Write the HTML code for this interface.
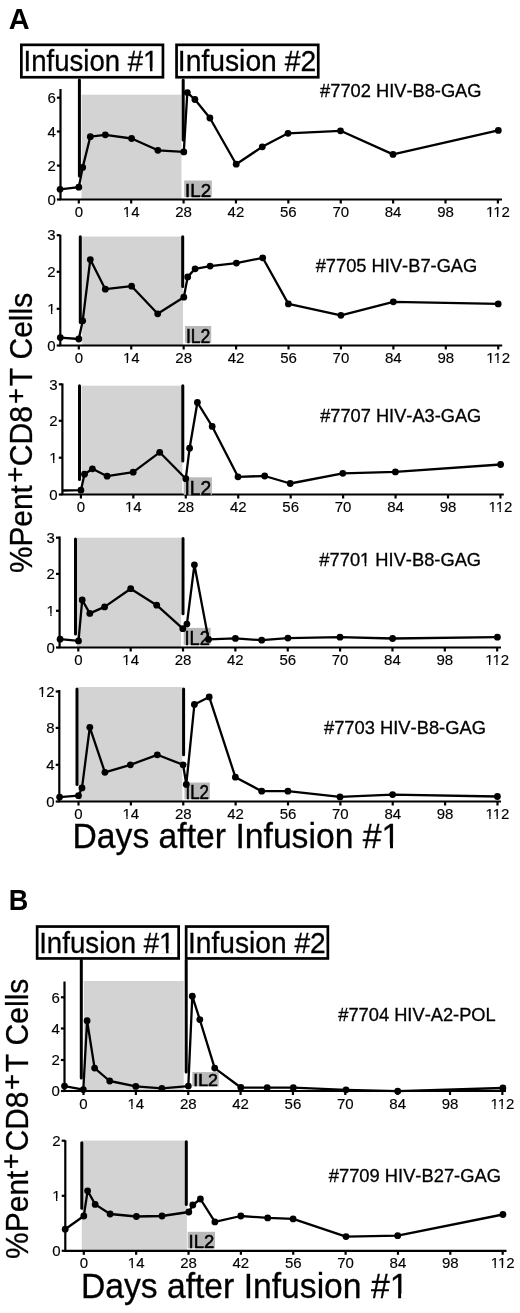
<!DOCTYPE html>
<html><head><meta charset="utf-8"><style>html,body{margin:0;padding:0;background:#fff;width:520px;height:1313px;overflow:hidden}</style></head>
<body>
<svg width="520" height="1313" viewBox="0 0 520 1313" style="position:absolute;left:0;top:0;filter:grayscale(1)">
<rect x="0" y="0" width="520" height="1313" fill="#fff"/>
<g font-family='"Liberation Sans", sans-serif' fill="#000">
<rect x="81.5" y="94.7" width="100" height="104.8" fill="#d3d3d3"/>
<path d="M60.5 89V199.5H502" fill="none" stroke="#000" stroke-width="2.2"/>
<path d="M56.9 199.5H60.5" stroke="#000" stroke-width="2.2"/>
<text x="47.46" y="204.7" font-size="15" stroke="#000" stroke-width="0.15">0</text>
<path d="M56.9 165.6H60.5" stroke="#000" stroke-width="2.2"/>
<text x="47.46" y="170.8" font-size="15" stroke="#000" stroke-width="0.15">2</text>
<path d="M56.9 131.5H60.5" stroke="#000" stroke-width="2.2"/>
<text x="47.46" y="136.7" font-size="15" stroke="#000" stroke-width="0.15">4</text>
<path d="M56.9 97.7H60.5" stroke="#000" stroke-width="2.2"/>
<text x="47.46" y="102.9" font-size="15" stroke="#000" stroke-width="0.15">6</text>
<path d="M78.8 199.5V203.5" stroke="#000" stroke-width="2.2"/>
<text x="74.63" y="217.1" font-size="15" stroke="#000" stroke-width="0.15">0</text>
<path d="M131.19 199.5V203.5" stroke="#000" stroke-width="2.2"/>
<text x="122.85" y="217.1" font-size="15" stroke="#000" stroke-width="0.15">14</text>
<path d="M183.58 199.5V203.5" stroke="#000" stroke-width="2.2"/>
<text x="175.23" y="217.1" font-size="15" stroke="#000" stroke-width="0.15">28</text>
<path d="M235.96 199.5V203.5" stroke="#000" stroke-width="2.2"/>
<text x="227.62" y="217.1" font-size="15" stroke="#000" stroke-width="0.15">42</text>
<path d="M288.35 199.5V203.5" stroke="#000" stroke-width="2.2"/>
<text x="280.01" y="217.1" font-size="15" stroke="#000" stroke-width="0.15">56</text>
<path d="M340.74 199.5V203.5" stroke="#000" stroke-width="2.2"/>
<text x="332.4" y="217.1" font-size="15" stroke="#000" stroke-width="0.15">70</text>
<path d="M393.13 199.5V203.5" stroke="#000" stroke-width="2.2"/>
<text x="384.79" y="217.1" font-size="15" stroke="#000" stroke-width="0.15">84</text>
<path d="M445.52 199.5V203.5" stroke="#000" stroke-width="2.2"/>
<text x="437.17" y="217.1" font-size="15" stroke="#000" stroke-width="0.15">98</text>
<path d="M497.9 199.5V203.5" stroke="#000" stroke-width="2.2"/>
<text x="485.95" y="217.1" font-size="15" stroke="#000" stroke-width="0.15">112</text>
<path d="M79.4 79.9V175.9" stroke="#000" stroke-width="3" stroke-linecap="round"/>
<path d="M183.2 79.9V140.1" stroke="#000" stroke-width="3" stroke-linecap="round"/>
<rect x="184.2" y="180.5" width="27.6" height="16.5" fill="#b9b9b9"/>
<path d="M60.1 189.3 L78.8 187.2 L82.7 167.4 L90.3 136.7 L105.3 134.8 L131.6 138.5 L157.9 150.3 L183.8 151.9 L187.3 92.6 L194.9 99.5 L209.9 118 L236.2 164.2 L262.3 146.8 L288 133.3 L340.5 130.8 L393 154.4 L498.3 130.4" fill="none" stroke="#000" stroke-width="2.3" stroke-linejoin="round"/>
<circle cx="60.1" cy="189.3" r="3.4"/>
<circle cx="78.8" cy="187.2" r="3.4"/>
<circle cx="82.7" cy="167.4" r="3.4"/>
<circle cx="90.3" cy="136.7" r="3.4"/>
<circle cx="105.3" cy="134.8" r="3.4"/>
<circle cx="131.6" cy="138.5" r="3.4"/>
<circle cx="157.9" cy="150.3" r="3.4"/>
<circle cx="183.8" cy="151.9" r="3.4"/>
<circle cx="187.3" cy="92.6" r="3.4"/>
<circle cx="194.9" cy="99.5" r="3.4"/>
<circle cx="209.9" cy="118" r="3.4"/>
<circle cx="236.2" cy="164.2" r="3.4"/>
<circle cx="262.3" cy="146.8" r="3.4"/>
<circle cx="288" cy="133.3" r="3.4"/>
<circle cx="340.5" cy="130.8" r="3.4"/>
<circle cx="393" cy="154.4" r="3.4"/>
<circle cx="498.3" cy="130.4" r="3.4"/>
<text x="185.02" y="196.85" font-size="19.19" textLength="26.07" lengthAdjust="spacingAndGlyphs" style="font-kerning:none" stroke="#000" stroke-width="0.55">IL2</text>
<text x="320.07" y="96.78" font-size="17.51" textLength="161.45" lengthAdjust="spacingAndGlyphs" style="font-kerning:none" stroke="#000" stroke-width="0.3">#7702 HIV-B8-GAG</text>
<rect x="82.2" y="236.5" width="100.8" height="109" fill="#d3d3d3"/>
<path d="M60.3 234.7V345.5H502.2" fill="none" stroke="#000" stroke-width="2.2"/>
<path d="M56.7 345.5H60.3" stroke="#000" stroke-width="2.2"/>
<text x="47.26" y="350.7" font-size="15" stroke="#000" stroke-width="0.15">0</text>
<path d="M56.7 308.8H60.3" stroke="#000" stroke-width="2.2"/>
<text x="47.26" y="314" font-size="15" stroke="#000" stroke-width="0.15">1</text>
<path d="M56.7 271.8H60.3" stroke="#000" stroke-width="2.2"/>
<text x="47.26" y="277" font-size="15" stroke="#000" stroke-width="0.15">2</text>
<path d="M56.7 235.2H60.3" stroke="#000" stroke-width="2.2"/>
<text x="47.26" y="240.4" font-size="15" stroke="#000" stroke-width="0.15">3</text>
<path d="M78.8 345.5V349.5" stroke="#000" stroke-width="2.2"/>
<text x="74.63" y="363.1" font-size="15" stroke="#000" stroke-width="0.15">0</text>
<path d="M131.23 345.5V349.5" stroke="#000" stroke-width="2.2"/>
<text x="122.89" y="363.1" font-size="15" stroke="#000" stroke-width="0.15">14</text>
<path d="M183.66 345.5V349.5" stroke="#000" stroke-width="2.2"/>
<text x="175.32" y="363.1" font-size="15" stroke="#000" stroke-width="0.15">28</text>
<path d="M236.09 345.5V349.5" stroke="#000" stroke-width="2.2"/>
<text x="227.75" y="363.1" font-size="15" stroke="#000" stroke-width="0.15">42</text>
<path d="M288.52 345.5V349.5" stroke="#000" stroke-width="2.2"/>
<text x="280.18" y="363.1" font-size="15" stroke="#000" stroke-width="0.15">56</text>
<path d="M340.95 345.5V349.5" stroke="#000" stroke-width="2.2"/>
<text x="332.61" y="363.1" font-size="15" stroke="#000" stroke-width="0.15">70</text>
<path d="M393.38 345.5V349.5" stroke="#000" stroke-width="2.2"/>
<text x="385.04" y="363.1" font-size="15" stroke="#000" stroke-width="0.15">84</text>
<path d="M445.81 345.5V349.5" stroke="#000" stroke-width="2.2"/>
<text x="437.47" y="363.1" font-size="15" stroke="#000" stroke-width="0.15">98</text>
<path d="M498.24 345.5V349.5" stroke="#000" stroke-width="2.2"/>
<text x="486.28" y="363.1" font-size="15" stroke="#000" stroke-width="0.15">112</text>
<path d="M80.3 236.8V322.6" stroke="#000" stroke-width="3" stroke-linecap="round"/>
<path d="M182.7 236.8V286.4" stroke="#000" stroke-width="3" stroke-linecap="round"/>
<rect x="185" y="326" width="26.2" height="16.7" fill="#b9b9b9"/>
<path d="M60.3 337.6 L78.8 339 L82.7 320.8 L90.3 259.6 L105.3 289.2 L131.6 286.2 L157.7 313.8 L183.8 297.2 L187.7 276.9 L195.1 268.8 L210.1 266.1 L236.4 263.1 L262.7 257.8 L288.4 303.9 L340.9 315.3 L393.3 301.8 L498.2 303.9" fill="none" stroke="#000" stroke-width="2.3" stroke-linejoin="round"/>
<circle cx="60.3" cy="337.6" r="3.4"/>
<circle cx="78.8" cy="339" r="3.4"/>
<circle cx="82.7" cy="320.8" r="3.4"/>
<circle cx="90.3" cy="259.6" r="3.4"/>
<circle cx="105.3" cy="289.2" r="3.4"/>
<circle cx="131.6" cy="286.2" r="3.4"/>
<circle cx="157.7" cy="313.8" r="3.4"/>
<circle cx="183.8" cy="297.2" r="3.4"/>
<circle cx="187.7" cy="276.9" r="3.4"/>
<circle cx="195.1" cy="268.8" r="3.4"/>
<circle cx="210.1" cy="266.1" r="3.4"/>
<circle cx="236.4" cy="263.1" r="3.4"/>
<circle cx="262.7" cy="257.8" r="3.4"/>
<circle cx="288.4" cy="303.9" r="3.4"/>
<circle cx="340.9" cy="315.3" r="3.4"/>
<circle cx="393.3" cy="301.8" r="3.4"/>
<circle cx="498.2" cy="303.9" r="3.4"/>
<text x="185.92" y="342.55" font-size="19.48" textLength="24.51" lengthAdjust="spacingAndGlyphs" style="font-kerning:none" stroke="#000" stroke-width="0.55">IL2</text>
<text x="315.67" y="271.57" font-size="18.64" textLength="161.65" lengthAdjust="spacingAndGlyphs" style="font-kerning:none" stroke="#000" stroke-width="0.3">#7705 HIV-B7-GAG</text>
<rect x="81.5" y="385.7" width="100.8" height="108.6" fill="#d3d3d3"/>
<path d="M62.4 383.5V494.5H503.8" fill="none" stroke="#000" stroke-width="2.2"/>
<path d="M58.8 494.5H62.4" stroke="#000" stroke-width="2.2"/>
<text x="49.36" y="499.7" font-size="15" stroke="#000" stroke-width="0.15">0</text>
<path d="M58.8 457.7H62.4" stroke="#000" stroke-width="2.2"/>
<text x="49.36" y="462.9" font-size="15" stroke="#000" stroke-width="0.15">1</text>
<path d="M58.8 420.8H62.4" stroke="#000" stroke-width="2.2"/>
<text x="49.36" y="426" font-size="15" stroke="#000" stroke-width="0.15">2</text>
<path d="M58.8 384.3H62.4" stroke="#000" stroke-width="2.2"/>
<text x="49.36" y="389.5" font-size="15" stroke="#000" stroke-width="0.15">3</text>
<path d="M80.9 494.5V498.5" stroke="#000" stroke-width="2.2"/>
<text x="76.73" y="512.1" font-size="15" stroke="#000" stroke-width="0.15">0</text>
<path d="M133.34 494.5V498.5" stroke="#000" stroke-width="2.2"/>
<text x="125" y="512.1" font-size="15" stroke="#000" stroke-width="0.15">14</text>
<path d="M185.79 494.5V498.5" stroke="#000" stroke-width="2.2"/>
<text x="177.45" y="512.1" font-size="15" stroke="#000" stroke-width="0.15">28</text>
<path d="M238.23 494.5V498.5" stroke="#000" stroke-width="2.2"/>
<text x="229.89" y="512.1" font-size="15" stroke="#000" stroke-width="0.15">42</text>
<path d="M290.68 494.5V498.5" stroke="#000" stroke-width="2.2"/>
<text x="282.33" y="512.1" font-size="15" stroke="#000" stroke-width="0.15">56</text>
<path d="M343.12 494.5V498.5" stroke="#000" stroke-width="2.2"/>
<text x="334.78" y="512.1" font-size="15" stroke="#000" stroke-width="0.15">70</text>
<path d="M395.56 494.5V498.5" stroke="#000" stroke-width="2.2"/>
<text x="387.22" y="512.1" font-size="15" stroke="#000" stroke-width="0.15">84</text>
<path d="M448.01 494.5V498.5" stroke="#000" stroke-width="2.2"/>
<text x="439.67" y="512.1" font-size="15" stroke="#000" stroke-width="0.15">98</text>
<path d="M500.45 494.5V498.5" stroke="#000" stroke-width="2.2"/>
<text x="488.5" y="512.1" font-size="15" stroke="#000" stroke-width="0.15">112</text>
<path d="M79.5 385.7V479.6" stroke="#000" stroke-width="3" stroke-linecap="round"/>
<path d="M182.8 385.8V461.1" stroke="#000" stroke-width="3" stroke-linecap="round"/>
<rect x="183.7" y="477.3" width="28.2" height="17.5" fill="#b9b9b9"/>
<path d="M62.4 490.5 L80.9 490.2 L84.5 474.2 L92.4 468.8 L107.1 476.2 L133.2 472.2 L159.7 452.3 L185.8 478.7 L189.6 448.2 L197.4 402.5 L212.2 426.4 L238 476.8 L264.7 476 L290.2 483.5 L342.8 473.3 L395.4 471.9 L500.6 464.5" fill="none" stroke="#000" stroke-width="2.3" stroke-linejoin="round"/>
<circle cx="80.9" cy="490.2" r="3.4"/>
<circle cx="84.5" cy="474.2" r="3.4"/>
<circle cx="92.4" cy="468.8" r="3.4"/>
<circle cx="107.1" cy="476.2" r="3.4"/>
<circle cx="133.2" cy="472.2" r="3.4"/>
<circle cx="159.7" cy="452.3" r="3.4"/>
<circle cx="185.8" cy="478.7" r="3.4"/>
<circle cx="189.6" cy="448.2" r="3.4"/>
<circle cx="197.4" cy="402.5" r="3.4"/>
<circle cx="212.2" cy="426.4" r="3.4"/>
<circle cx="238" cy="476.8" r="3.4"/>
<circle cx="264.7" cy="476" r="3.4"/>
<circle cx="290.2" cy="483.5" r="3.4"/>
<circle cx="342.8" cy="473.3" r="3.4"/>
<circle cx="395.4" cy="471.9" r="3.4"/>
<circle cx="500.6" cy="464.5" r="3.4"/>
<text x="184.47" y="494.65" font-size="20.62" textLength="26.74" lengthAdjust="spacingAndGlyphs" style="font-kerning:none" stroke="#000" stroke-width="0.55">IL2</text>
<text x="320.17" y="421.67" font-size="18.22" textLength="161.14" lengthAdjust="spacingAndGlyphs" style="font-kerning:none" stroke="#000" stroke-width="0.3">#7707 HIV-A3-GAG</text>
<rect x="76.9" y="537.7" width="104.1" height="109.8" fill="#d3d3d3"/>
<path d="M59.6 536.5V647.5H501" fill="none" stroke="#000" stroke-width="2.2"/>
<path d="M56 647.5H59.6" stroke="#000" stroke-width="2.2"/>
<text x="46.56" y="652.7" font-size="15" stroke="#000" stroke-width="0.15">0</text>
<path d="M56 610.8H59.6" stroke="#000" stroke-width="2.2"/>
<text x="46.56" y="616" font-size="15" stroke="#000" stroke-width="0.15">1</text>
<path d="M56 573.9H59.6" stroke="#000" stroke-width="2.2"/>
<text x="46.56" y="579.1" font-size="15" stroke="#000" stroke-width="0.15">2</text>
<path d="M56 537.7H59.6" stroke="#000" stroke-width="2.2"/>
<text x="46.56" y="542.9" font-size="15" stroke="#000" stroke-width="0.15">3</text>
<path d="M78.3 647.5V651.5" stroke="#000" stroke-width="2.2"/>
<text x="74.13" y="665.1" font-size="15" stroke="#000" stroke-width="0.15">0</text>
<path d="M130.66 647.5V651.5" stroke="#000" stroke-width="2.2"/>
<text x="122.32" y="665.1" font-size="15" stroke="#000" stroke-width="0.15">14</text>
<path d="M183.02 647.5V651.5" stroke="#000" stroke-width="2.2"/>
<text x="174.68" y="665.1" font-size="15" stroke="#000" stroke-width="0.15">28</text>
<path d="M235.38 647.5V651.5" stroke="#000" stroke-width="2.2"/>
<text x="227.04" y="665.1" font-size="15" stroke="#000" stroke-width="0.15">42</text>
<path d="M287.74 647.5V651.5" stroke="#000" stroke-width="2.2"/>
<text x="279.4" y="665.1" font-size="15" stroke="#000" stroke-width="0.15">56</text>
<path d="M340.1 647.5V651.5" stroke="#000" stroke-width="2.2"/>
<text x="331.76" y="665.1" font-size="15" stroke="#000" stroke-width="0.15">70</text>
<path d="M392.46 647.5V651.5" stroke="#000" stroke-width="2.2"/>
<text x="384.12" y="665.1" font-size="15" stroke="#000" stroke-width="0.15">84</text>
<path d="M444.82 647.5V651.5" stroke="#000" stroke-width="2.2"/>
<text x="436.48" y="665.1" font-size="15" stroke="#000" stroke-width="0.15">98</text>
<path d="M497.18 647.5V651.5" stroke="#000" stroke-width="2.2"/>
<text x="485.22" y="665.1" font-size="15" stroke="#000" stroke-width="0.15">112</text>
<path d="M75.5 539.1V633.9" stroke="#000" stroke-width="3" stroke-linecap="round"/>
<path d="M183 538.5V613.8" stroke="#000" stroke-width="3" stroke-linecap="round"/>
<rect x="183.7" y="627.9" width="26.9" height="16.9" fill="#b9b9b9"/>
<path d="M60.1 639.2 L78.5 640.9 L82.2 600 L89.8 613.4 L104.6 606.9 L130.7 588.7 L156.7 605.2 L182.8 628.7 L186.9 624.1 L194.4 564.8 L208.5 639.4 L235.4 638.4 L261.7 640.2 L287.9 638.1 L340 637.2 L392.6 638.5 L497.4 637.2" fill="none" stroke="#000" stroke-width="2.3" stroke-linejoin="round"/>
<circle cx="60.1" cy="639.2" r="3.4"/>
<circle cx="78.5" cy="640.9" r="3.4"/>
<circle cx="82.2" cy="600" r="3.4"/>
<circle cx="89.8" cy="613.4" r="3.4"/>
<circle cx="104.6" cy="606.9" r="3.4"/>
<circle cx="130.7" cy="588.7" r="3.4"/>
<circle cx="156.7" cy="605.2" r="3.4"/>
<circle cx="182.8" cy="628.7" r="3.4"/>
<circle cx="186.9" cy="624.1" r="3.4"/>
<circle cx="194.4" cy="564.8" r="3.4"/>
<circle cx="208.5" cy="639.4" r="3.4"/>
<circle cx="235.4" cy="638.4" r="3.4"/>
<circle cx="261.7" cy="640.2" r="3.4"/>
<circle cx="287.9" cy="638.1" r="3.4"/>
<circle cx="340" cy="637.2" r="3.4"/>
<circle cx="392.6" cy="638.5" r="3.4"/>
<circle cx="497.4" cy="637.2" r="3.4"/>
<text x="184.57" y="644.65" font-size="19.76" textLength="25.29" lengthAdjust="spacingAndGlyphs" style="font-kerning:none" stroke="#000" stroke-width="0.55">IL2</text>
<text x="319.37" y="565.97" font-size="18.5" textLength="161.75" lengthAdjust="spacingAndGlyphs" style="font-kerning:none" stroke="#000" stroke-width="0.3">#7701 HIV-B8-GAG</text>
<rect x="78.5" y="687" width="103.8" height="114.8" fill="#d3d3d3"/>
<path d="M59.3 690V801.5H501" fill="none" stroke="#000" stroke-width="2.2"/>
<path d="M55.7 801.5H59.3" stroke="#000" stroke-width="2.2"/>
<text x="46.26" y="806.7" font-size="15" stroke="#000" stroke-width="0.15">0</text>
<path d="M55.7 764.8H59.3" stroke="#000" stroke-width="2.2"/>
<text x="46.26" y="770" font-size="15" stroke="#000" stroke-width="0.15">4</text>
<path d="M55.7 727.9H59.3" stroke="#000" stroke-width="2.2"/>
<text x="46.26" y="733.1" font-size="15" stroke="#000" stroke-width="0.15">8</text>
<path d="M55.7 691.5H59.3" stroke="#000" stroke-width="2.2"/>
<text x="37.92" y="696.7" font-size="15" stroke="#000" stroke-width="0.15">12</text>
<path d="M78.5 801.5V805.5" stroke="#000" stroke-width="2.2"/>
<text x="74.33" y="819.1" font-size="15" stroke="#000" stroke-width="0.15">0</text>
<path d="M130.87 801.5V805.5" stroke="#000" stroke-width="2.2"/>
<text x="122.53" y="819.1" font-size="15" stroke="#000" stroke-width="0.15">14</text>
<path d="M183.25 801.5V805.5" stroke="#000" stroke-width="2.2"/>
<text x="174.91" y="819.1" font-size="15" stroke="#000" stroke-width="0.15">28</text>
<path d="M235.62 801.5V805.5" stroke="#000" stroke-width="2.2"/>
<text x="227.28" y="819.1" font-size="15" stroke="#000" stroke-width="0.15">42</text>
<path d="M288 801.5V805.5" stroke="#000" stroke-width="2.2"/>
<text x="279.65" y="819.1" font-size="15" stroke="#000" stroke-width="0.15">56</text>
<path d="M340.37 801.5V805.5" stroke="#000" stroke-width="2.2"/>
<text x="332.03" y="819.1" font-size="15" stroke="#000" stroke-width="0.15">70</text>
<path d="M392.74 801.5V805.5" stroke="#000" stroke-width="2.2"/>
<text x="384.4" y="819.1" font-size="15" stroke="#000" stroke-width="0.15">84</text>
<path d="M445.12 801.5V805.5" stroke="#000" stroke-width="2.2"/>
<text x="436.78" y="819.1" font-size="15" stroke="#000" stroke-width="0.15">98</text>
<path d="M497.49 801.5V805.5" stroke="#000" stroke-width="2.2"/>
<text x="485.54" y="819.1" font-size="15" stroke="#000" stroke-width="0.15">112</text>
<path d="M77 688.9V784.4" stroke="#000" stroke-width="3" stroke-linecap="round"/>
<path d="M183.6 688.9V754.8" stroke="#000" stroke-width="3" stroke-linecap="round"/>
<rect x="184.5" y="782.5" width="25.3" height="16.7" fill="#b9b9b9"/>
<path d="M59.6 797.1 L78.5 795.7 L82 787.9 L89.8 727.3 L104.9 772.3 L130.4 764.8 L157.3 754.8 L183.1 764.8 L186.3 784.4 L194.4 704.5 L209.2 696.9 L235.4 777.2 L261.7 791.2 L287.9 791.2 L340 796.9 L392.6 794.6 L497.4 796.5" fill="none" stroke="#000" stroke-width="2.3" stroke-linejoin="round"/>
<circle cx="59.6" cy="797.1" r="3.4"/>
<circle cx="78.5" cy="795.7" r="3.4"/>
<circle cx="82" cy="787.9" r="3.4"/>
<circle cx="89.8" cy="727.3" r="3.4"/>
<circle cx="104.9" cy="772.3" r="3.4"/>
<circle cx="130.4" cy="764.8" r="3.4"/>
<circle cx="157.3" cy="754.8" r="3.4"/>
<circle cx="183.1" cy="764.8" r="3.4"/>
<circle cx="186.3" cy="784.4" r="3.4"/>
<circle cx="194.4" cy="704.5" r="3.4"/>
<circle cx="209.2" cy="696.9" r="3.4"/>
<circle cx="235.4" cy="777.2" r="3.4"/>
<circle cx="261.7" cy="791.2" r="3.4"/>
<circle cx="287.9" cy="791.2" r="3.4"/>
<circle cx="340" cy="796.9" r="3.4"/>
<circle cx="392.6" cy="794.6" r="3.4"/>
<circle cx="497.4" cy="796.5" r="3.4"/>
<text x="185.49" y="799.05" font-size="19.48" textLength="23.51" lengthAdjust="spacingAndGlyphs" style="font-kerning:none" stroke="#000" stroke-width="0.55">IL2</text>
<text x="323.97" y="734.37" font-size="18.36" textLength="161.95" lengthAdjust="spacingAndGlyphs" style="font-kerning:none" stroke="#000" stroke-width="0.3">#7703 HIV-B8-GAG</text>
<rect x="83.8" y="981" width="99.9" height="110" fill="#d3d3d3"/>
<path d="M64.5 981.4V1091H506" fill="none" stroke="#000" stroke-width="2.2"/>
<path d="M60.9 1091H64.5" stroke="#000" stroke-width="2.2"/>
<text x="51.46" y="1096.2" font-size="15" stroke="#000" stroke-width="0.15">0</text>
<path d="M60.9 1060H64.5" stroke="#000" stroke-width="2.2"/>
<text x="51.46" y="1065.2" font-size="15" stroke="#000" stroke-width="0.15">2</text>
<path d="M60.9 1028.5H64.5" stroke="#000" stroke-width="2.2"/>
<text x="51.46" y="1033.7" font-size="15" stroke="#000" stroke-width="0.15">4</text>
<path d="M60.9 997.3H64.5" stroke="#000" stroke-width="2.2"/>
<text x="51.46" y="1002.5" font-size="15" stroke="#000" stroke-width="0.15">6</text>
<path d="M83.5 1091V1095" stroke="#000" stroke-width="2.2"/>
<text x="79.33" y="1108.6" font-size="15" stroke="#000" stroke-width="0.15">0</text>
<path d="M135.86 1091V1095" stroke="#000" stroke-width="2.2"/>
<text x="127.52" y="1108.6" font-size="15" stroke="#000" stroke-width="0.15">14</text>
<path d="M188.22 1091V1095" stroke="#000" stroke-width="2.2"/>
<text x="179.88" y="1108.6" font-size="15" stroke="#000" stroke-width="0.15">28</text>
<path d="M240.58 1091V1095" stroke="#000" stroke-width="2.2"/>
<text x="232.24" y="1108.6" font-size="15" stroke="#000" stroke-width="0.15">42</text>
<path d="M292.94 1091V1095" stroke="#000" stroke-width="2.2"/>
<text x="284.6" y="1108.6" font-size="15" stroke="#000" stroke-width="0.15">56</text>
<path d="M345.3 1091V1095" stroke="#000" stroke-width="2.2"/>
<text x="336.96" y="1108.6" font-size="15" stroke="#000" stroke-width="0.15">70</text>
<path d="M397.66 1091V1095" stroke="#000" stroke-width="2.2"/>
<text x="389.32" y="1108.6" font-size="15" stroke="#000" stroke-width="0.15">84</text>
<path d="M450.02 1091V1095" stroke="#000" stroke-width="2.2"/>
<text x="441.68" y="1108.6" font-size="15" stroke="#000" stroke-width="0.15">98</text>
<path d="M502.38 1091V1095" stroke="#000" stroke-width="2.2"/>
<text x="490.42" y="1108.6" font-size="15" stroke="#000" stroke-width="0.15">112</text>
<path d="M81.3 960.4V1077.9" stroke="#000" stroke-width="3" stroke-linecap="round"/>
<path d="M186.2 960.4V1072.1" stroke="#000" stroke-width="3" stroke-linecap="round"/>
<rect x="192.3" y="1072.1" width="26.4" height="14.3" fill="#b9b9b9"/>
<path d="M64.5 1086.1 L83.3 1089.6 L87.1 1020.7 L94.6 1068.1 L109.7 1081 L135.8 1086.4 L161.9 1088.3 L188.3 1086.1 L192.3 996.2 L199.8 1019.6 L214.7 1068.1 L240.8 1087.5 L267.2 1087.7 L293.3 1087.7 L346 1089.8 L397.7 1091.2 L502.9 1088" fill="none" stroke="#000" stroke-width="2.3" stroke-linejoin="round"/>
<circle cx="64.5" cy="1086.1" r="3.4"/>
<circle cx="83.3" cy="1089.6" r="3.4"/>
<circle cx="87.1" cy="1020.7" r="3.4"/>
<circle cx="94.6" cy="1068.1" r="3.4"/>
<circle cx="109.7" cy="1081" r="3.4"/>
<circle cx="135.8" cy="1086.4" r="3.4"/>
<circle cx="161.9" cy="1088.3" r="3.4"/>
<circle cx="188.3" cy="1086.1" r="3.4"/>
<circle cx="192.3" cy="996.2" r="3.4"/>
<circle cx="199.8" cy="1019.6" r="3.4"/>
<circle cx="214.7" cy="1068.1" r="3.4"/>
<circle cx="240.8" cy="1087.5" r="3.4"/>
<circle cx="267.2" cy="1087.7" r="3.4"/>
<circle cx="293.3" cy="1087.7" r="3.4"/>
<circle cx="346" cy="1089.8" r="3.4"/>
<circle cx="397.7" cy="1091.2" r="3.4"/>
<circle cx="502.9" cy="1088" r="3.4"/>
<text x="193.21" y="1086.25" font-size="16.04" textLength="24.74" lengthAdjust="spacingAndGlyphs" style="font-kerning:none" stroke="#000" stroke-width="0.55">IL2</text>
<text x="338.27" y="1020.77" font-size="18.08" textLength="157.49" lengthAdjust="spacingAndGlyphs" style="font-kerning:none" stroke="#000" stroke-width="0.3">#7704 HIV-A2-POL</text>
<rect x="81.8" y="1140.5" width="105.1" height="110" fill="#d3d3d3"/>
<path d="M65.3 1140.3V1250.8H506.5" fill="none" stroke="#000" stroke-width="2.2"/>
<path d="M61.7 1250.8H65.3" stroke="#000" stroke-width="2.2"/>
<text x="52.26" y="1256" font-size="15" stroke="#000" stroke-width="0.15">0</text>
<path d="M61.7 1195.8H65.3" stroke="#000" stroke-width="2.2"/>
<text x="52.26" y="1201" font-size="15" stroke="#000" stroke-width="0.15">1</text>
<path d="M61.7 1140.7H65.3" stroke="#000" stroke-width="2.2"/>
<text x="52.26" y="1145.9" font-size="15" stroke="#000" stroke-width="0.15">2</text>
<path d="M83.8 1250.8V1254.8" stroke="#000" stroke-width="2.2"/>
<text x="79.63" y="1268.4" font-size="15" stroke="#000" stroke-width="0.15">0</text>
<path d="M136.16 1250.8V1254.8" stroke="#000" stroke-width="2.2"/>
<text x="127.82" y="1268.4" font-size="15" stroke="#000" stroke-width="0.15">14</text>
<path d="M188.52 1250.8V1254.8" stroke="#000" stroke-width="2.2"/>
<text x="180.18" y="1268.4" font-size="15" stroke="#000" stroke-width="0.15">28</text>
<path d="M240.88 1250.8V1254.8" stroke="#000" stroke-width="2.2"/>
<text x="232.54" y="1268.4" font-size="15" stroke="#000" stroke-width="0.15">42</text>
<path d="M293.24 1250.8V1254.8" stroke="#000" stroke-width="2.2"/>
<text x="284.9" y="1268.4" font-size="15" stroke="#000" stroke-width="0.15">56</text>
<path d="M345.6 1250.8V1254.8" stroke="#000" stroke-width="2.2"/>
<text x="337.26" y="1268.4" font-size="15" stroke="#000" stroke-width="0.15">70</text>
<path d="M397.96 1250.8V1254.8" stroke="#000" stroke-width="2.2"/>
<text x="389.62" y="1268.4" font-size="15" stroke="#000" stroke-width="0.15">84</text>
<path d="M450.32 1250.8V1254.8" stroke="#000" stroke-width="2.2"/>
<text x="441.98" y="1268.4" font-size="15" stroke="#000" stroke-width="0.15">98</text>
<path d="M502.68 1250.8V1254.8" stroke="#000" stroke-width="2.2"/>
<text x="490.72" y="1268.4" font-size="15" stroke="#000" stroke-width="0.15">112</text>
<path d="M81.8 1142.7V1208.3" stroke="#000" stroke-width="3" stroke-linecap="round"/>
<path d="M186.3 1141.7V1204.4" stroke="#000" stroke-width="3" stroke-linecap="round"/>
<rect x="187.7" y="1231.8" width="27.3" height="16.5" fill="#b9b9b9"/>
<path d="M65.2 1229.2 L83.8 1216 L87.6 1190.8 L95.2 1204.4 L110.1 1214 L136.4 1216.5 L162 1216 L188.8 1212 L192.8 1205 L200.4 1199 L214.9 1221.9 L240.8 1216 L267.7 1217.9 L293.1 1218.9 L346 1236.6 L397.7 1235.7 L502.9 1214.5" fill="none" stroke="#000" stroke-width="2.3" stroke-linejoin="round"/>
<circle cx="65.2" cy="1229.2" r="3.4"/>
<circle cx="83.8" cy="1216" r="3.4"/>
<circle cx="87.6" cy="1190.8" r="3.4"/>
<circle cx="95.2" cy="1204.4" r="3.4"/>
<circle cx="110.1" cy="1214" r="3.4"/>
<circle cx="136.4" cy="1216.5" r="3.4"/>
<circle cx="162" cy="1216" r="3.4"/>
<circle cx="188.8" cy="1212" r="3.4"/>
<circle cx="192.8" cy="1205" r="3.4"/>
<circle cx="200.4" cy="1199" r="3.4"/>
<circle cx="214.9" cy="1221.9" r="3.4"/>
<circle cx="240.8" cy="1216" r="3.4"/>
<circle cx="267.7" cy="1217.9" r="3.4"/>
<circle cx="293.1" cy="1218.9" r="3.4"/>
<circle cx="346" cy="1236.6" r="3.4"/>
<circle cx="397.7" cy="1235.7" r="3.4"/>
<circle cx="502.9" cy="1214.5" r="3.4"/>
<text x="188.54" y="1248.15" font-size="19.19" textLength="25.74" lengthAdjust="spacingAndGlyphs" style="font-kerning:none" stroke="#000" stroke-width="0.55">IL2</text>
<text x="328.77" y="1181.57" font-size="18.22" textLength="172.15" lengthAdjust="spacingAndGlyphs" style="font-kerning:none" stroke="#000" stroke-width="0.3">#7709 HIV-B27-GAG</text>
<text x="8.68" y="28.8" font-size="28.63" font-weight="bold" textLength="20.88" lengthAdjust="spacingAndGlyphs" style="font-kerning:none">A</text>
<text x="8.79" y="909.7" font-size="28.63" font-weight="bold" textLength="19.54" lengthAdjust="spacingAndGlyphs" style="font-kerning:none">B</text>
<rect x="21.35" y="44.85" width="141.6" height="32.4" fill="#fff" stroke="#000" stroke-width="2.7"/><text x="23.51" y="71.45" font-size="29.07" textLength="134.89" lengthAdjust="spacingAndGlyphs" style="font-kerning:none" stroke="#000" stroke-width="0.3">Infusion #1</text>
<rect x="176.55" y="44.85" width="141.7" height="32.4" fill="#fff" stroke="#000" stroke-width="2.7"/><text x="177.84" y="71.45" font-size="29.07" textLength="138.33" lengthAdjust="spacingAndGlyphs" style="font-kerning:none" stroke="#000" stroke-width="0.3">Infusion #2</text>
<rect x="37.15" y="926.55" width="141.5" height="31.9" fill="#fff" stroke="#000" stroke-width="2.7"/><text x="39.2" y="952.75" font-size="28.78" textLength="135.3" lengthAdjust="spacingAndGlyphs" style="font-kerning:none" stroke="#000" stroke-width="0.3">Infusion #1</text>
<rect x="186.15" y="926.55" width="141.7" height="31.9" fill="#fff" stroke="#000" stroke-width="2.7"/><text x="188.05" y="952.75" font-size="28.78" textLength="137.71" lengthAdjust="spacingAndGlyphs" style="font-kerning:none" stroke="#000" stroke-width="0.3">Infusion #2</text>
<text x="72.49" y="847.95" font-size="34.74" textLength="327.81" lengthAdjust="spacingAndGlyphs" style="font-kerning:none" stroke="#000" stroke-width="0.3">Days after Infusion #1</text>
<text x="80.89" y="1297.85" font-size="34.59" textLength="327.51" lengthAdjust="spacingAndGlyphs" style="font-kerning:none" stroke="#000" stroke-width="0.3">Days after Infusion #1</text>
<text transform="translate(31.65,573.11) rotate(-90)" font-size="31.1" textLength="87.98" lengthAdjust="spacingAndGlyphs" style="font-kerning:none" stroke="#000" stroke-width="0.3">%Pent</text><text transform="translate(31.65,466.28) rotate(-90)" font-size="31.1" textLength="60.45" lengthAdjust="spacingAndGlyphs" style="font-kerning:none" stroke="#000" stroke-width="0.3">CD8</text><text transform="translate(31.65,386.22) rotate(-90)" font-size="31.1" textLength="93.46" lengthAdjust="spacingAndGlyphs" style="font-kerning:none" stroke="#000" stroke-width="0.3">T Cells</text><text transform="translate(24.42,482.81) rotate(-90)" font-size="28.02" textLength="16.23" lengthAdjust="spacingAndGlyphs" style="font-kerning:none" stroke="#000" stroke-width="0.3">+</text><text transform="translate(24.52,403.98) rotate(-90)" font-size="28.02" textLength="15.87" lengthAdjust="spacingAndGlyphs" style="font-kerning:none" stroke="#000" stroke-width="0.3">+</text>
<text transform="translate(27.95,1258.92) rotate(-90)" font-size="30.81" textLength="88.39" lengthAdjust="spacingAndGlyphs" style="font-kerning:none" stroke="#000" stroke-width="0.3">%Pent</text><text transform="translate(27.95,1151.26) rotate(-90)" font-size="30.81" textLength="59.5" lengthAdjust="spacingAndGlyphs" style="font-kerning:none" stroke="#000" stroke-width="0.3">CD8</text><text transform="translate(27.95,1072.33) rotate(-90)" font-size="30.81" textLength="93.77" lengthAdjust="spacingAndGlyphs" style="font-kerning:none" stroke="#000" stroke-width="0.3">T Cells</text><text transform="translate(20.24,1169.19) rotate(-90)" font-size="27.2" textLength="15.99" lengthAdjust="spacingAndGlyphs" style="font-kerning:none" stroke="#000" stroke-width="0.3">+</text><text transform="translate(20.85,1090.13) rotate(-90)" font-size="28.43" textLength="16.47" lengthAdjust="spacingAndGlyphs" style="font-kerning:none" stroke="#000" stroke-width="0.3">+</text>
<rect x="123.01" y="214.38" width="3.61" height="3.72" fill="#fff"/>
<rect x="127.94" y="214.38" width="3.5" height="3.72" fill="#fff"/>
<rect x="486.11" y="214.38" width="3.61" height="3.72" fill="#fff"/>
<rect x="491.04" y="214.38" width="3.5" height="3.72" fill="#fff"/>
<rect x="493.34" y="214.38" width="3.61" height="3.72" fill="#fff"/>
<rect x="498.27" y="214.38" width="3.5" height="3.72" fill="#fff"/>
<rect x="47.42" y="311.28" width="3.61" height="3.72" fill="#fff"/>
<rect x="52.36" y="311.28" width="3.5" height="3.72" fill="#fff"/>
<rect x="123.05" y="360.38" width="3.61" height="3.72" fill="#fff"/>
<rect x="127.99" y="360.38" width="3.5" height="3.72" fill="#fff"/>
<rect x="486.44" y="360.38" width="3.61" height="3.72" fill="#fff"/>
<rect x="491.38" y="360.38" width="3.5" height="3.72" fill="#fff"/>
<rect x="493.67" y="360.38" width="3.61" height="3.72" fill="#fff"/>
<rect x="498.61" y="360.38" width="3.5" height="3.72" fill="#fff"/>
<rect x="49.52" y="460.18" width="3.61" height="3.72" fill="#fff"/>
<rect x="54.46" y="460.18" width="3.5" height="3.72" fill="#fff"/>
<rect x="125.16" y="509.38" width="3.61" height="3.72" fill="#fff"/>
<rect x="130.1" y="509.38" width="3.5" height="3.72" fill="#fff"/>
<rect x="488.65" y="509.38" width="3.61" height="3.72" fill="#fff"/>
<rect x="493.59" y="509.38" width="3.5" height="3.72" fill="#fff"/>
<rect x="495.88" y="509.38" width="3.61" height="3.72" fill="#fff"/>
<rect x="500.82" y="509.38" width="3.5" height="3.72" fill="#fff"/>
<rect x="46.72" y="613.28" width="3.61" height="3.72" fill="#fff"/>
<rect x="51.66" y="613.28" width="3.5" height="3.72" fill="#fff"/>
<rect x="122.48" y="662.38" width="3.61" height="3.72" fill="#fff"/>
<rect x="127.42" y="662.38" width="3.5" height="3.72" fill="#fff"/>
<rect x="485.38" y="662.38" width="3.61" height="3.72" fill="#fff"/>
<rect x="490.32" y="662.38" width="3.5" height="3.72" fill="#fff"/>
<rect x="492.61" y="662.38" width="3.61" height="3.72" fill="#fff"/>
<rect x="497.55" y="662.38" width="3.5" height="3.72" fill="#fff"/>
<rect x="360.46" y="562.99" width="4.23" height="3.98" fill="#fff"/>
<rect x="366.31" y="562.99" width="4.09" height="3.98" fill="#fff"/>
<rect x="38.07" y="693.98" width="3.61" height="3.72" fill="#fff"/>
<rect x="43.01" y="693.98" width="3.5" height="3.72" fill="#fff"/>
<rect x="122.69" y="816.38" width="3.61" height="3.72" fill="#fff"/>
<rect x="127.63" y="816.38" width="3.5" height="3.72" fill="#fff"/>
<rect x="485.69" y="816.38" width="3.61" height="3.72" fill="#fff"/>
<rect x="490.63" y="816.38" width="3.5" height="3.72" fill="#fff"/>
<rect x="492.92" y="816.38" width="3.61" height="3.72" fill="#fff"/>
<rect x="497.86" y="816.38" width="3.5" height="3.72" fill="#fff"/>
<rect x="127.68" y="1105.88" width="3.61" height="3.72" fill="#fff"/>
<rect x="132.62" y="1105.88" width="3.5" height="3.72" fill="#fff"/>
<rect x="490.58" y="1105.88" width="3.61" height="3.72" fill="#fff"/>
<rect x="495.52" y="1105.88" width="3.5" height="3.72" fill="#fff"/>
<rect x="497.81" y="1105.88" width="3.61" height="3.72" fill="#fff"/>
<rect x="502.75" y="1105.88" width="3.5" height="3.72" fill="#fff"/>
<rect x="52.42" y="1198.28" width="3.61" height="3.72" fill="#fff"/>
<rect x="57.36" y="1198.28" width="3.5" height="3.72" fill="#fff"/>
<rect x="127.98" y="1265.68" width="3.61" height="3.72" fill="#fff"/>
<rect x="132.92" y="1265.68" width="3.5" height="3.72" fill="#fff"/>
<rect x="490.88" y="1265.68" width="3.61" height="3.72" fill="#fff"/>
<rect x="495.82" y="1265.68" width="3.5" height="3.72" fill="#fff"/>
<rect x="498.11" y="1265.68" width="3.61" height="3.72" fill="#fff"/>
<rect x="503.05" y="1265.68" width="3.5" height="3.72" fill="#fff"/>
<rect x="144.03" y="67.68" width="5.97" height="4.77" fill="#fff"/>
<rect x="152.43" y="67.68" width="5.75" height="4.77" fill="#fff"/>
<rect x="160.09" y="949" width="5.99" height="4.75" fill="#fff"/>
<rect x="168.52" y="949" width="5.77" height="4.75" fill="#fff"/>
<rect x="382.91" y="843.75" width="7.12" height="5.2" fill="#fff"/>
<rect x="393.01" y="843.75" width="6.86" height="5.2" fill="#fff"/>
<rect x="391.02" y="1293.67" width="7.11" height="5.18" fill="#fff"/>
<rect x="401.11" y="1293.67" width="6.85" height="5.18" fill="#fff"/>
</g></svg>
</body></html>
